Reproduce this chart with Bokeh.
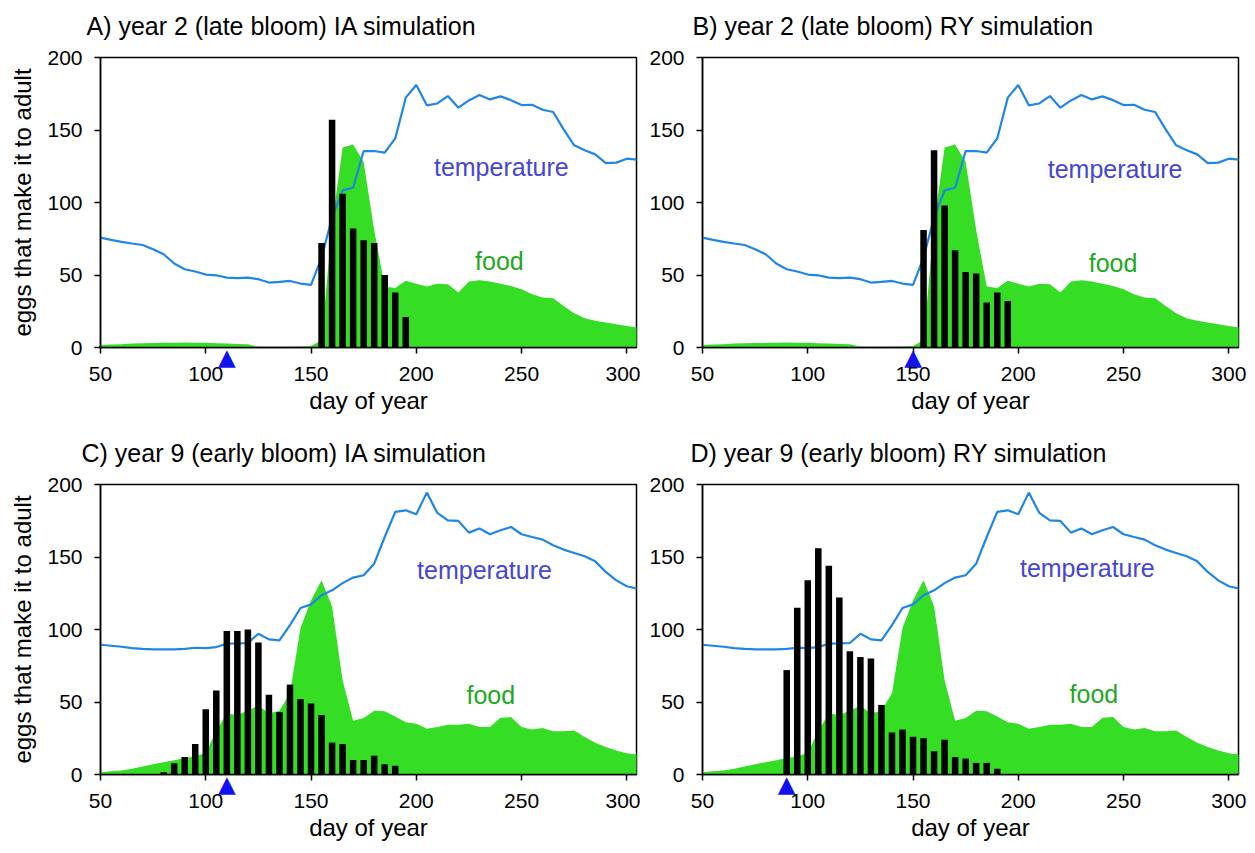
from bokeh.plotting import figure
from bokeh.layouts import column, row
from bokeh.models import Range1d, Label, LinearAxis, FixedTicker
from bokeh.embed import file_html
from bokeh.resources import INLINE

# ---------------- data ----------------
days = list(range(50, 306, 5))  # 50 .. 305

temp_year2 = [75.8, 74.2, 72.8, 71.7, 70.7, 67.8, 64.3, 57.9, 54.0, 52.4,
              50.3, 49.8, 48.2, 47.8, 48.2, 47.1, 44.8, 45.2, 45.9, 44.1,
              43.2, 62.0, 89.6, 108.4, 110.2, 135.5, 135.5, 134.4, 144.2, 172.3,
              181.0, 167.0, 168.3, 173.4, 165.4, 170.4, 174.1, 171.1, 173.2, 170.6,
              167.2, 167.4, 164.0, 162.4, 150.4, 139.4, 136.0, 133.2, 127.2, 127.5,
              130.2, 129.5]
food_year2 = [1.8, 2.0, 2.3, 2.7, 3.0, 3.1, 3.2, 3.3, 3.4, 3.3,
              3.2, 3.0, 2.8, 2.5, 2.3, 0.5, 0.2, 0.2, 0.3, 0.5,
              1.0, 5.0, 85.0, 138.0, 140.0, 128.0, 81.0, 42.0, 41.0, 46.0,
              44.0, 42.0, 44.0, 43.6, 38.0, 45.5, 46.4, 45.5, 44.0, 42.5,
              40.2, 36.7, 34.4, 34.0, 28.7, 23.7, 20.2, 18.4, 17.2, 16.1,
              14.9, 13.8]
temp_year9 = [89.5, 88.8, 88.1, 87.2, 86.7, 86.3, 86.3, 86.3, 86.7, 87.4,
              87.2, 87.9, 90.2, 90.4, 90.7, 97.1, 93.2, 92.5, 103.0, 114.8,
              117.3, 123.6, 127.0, 132.0, 135.8, 137.4, 145.4, 163.8, 181.1, 182.2,
              179.5, 194.4, 180.4, 175.3, 174.9, 166.8, 169.6, 165.7, 168.4, 170.7,
              165.7, 163.8, 162.0, 158.1, 155.1, 152.8, 150.5, 147.0, 139.7, 133.9,
              129.8, 128.2]
food_year9 = [1.6, 2.2, 2.8, 4.0, 5.5, 7.0, 8.5, 9.9, 11.3, 12.4,
              15.0, 30.0, 42.0, 41.0, 44.0, 47.5, 42.0, 44.0, 56.0, 101.0,
              120.0, 134.0, 116.0, 65.0, 37.0, 39.0, 44.0, 43.7, 40.0, 36.1,
              35.0, 31.5, 32.7, 34.3, 34.3, 35.0, 32.7, 32.7, 39.1, 39.6,
              32.7, 31.1, 32.0, 29.9, 29.9, 30.4, 25.8, 21.9, 18.9, 16.6,
              14.7, 13.8]

bar_days_A = [155, 160, 165, 170, 175, 180, 185, 190, 195]
eggs_A = [72, 157, 106, 82, 74, 72, 50, 38, 21]
bar_days_B = [155, 160, 165, 170, 175, 180, 185, 190, 195]
eggs_B = [81, 136, 98, 67, 52, 51, 31, 38, 32]
bar_days_C = list(range(80, 191, 5))
eggs_C = [1.6, 7.8, 12, 21, 45, 58, 99, 99, 100, 91, 55, 43, 62, 52, 49, 41,
          22, 21, 10, 10, 13, 7, 6]
bar_days_D = list(range(90, 191, 5))
eggs_D = [72, 115, 134, 156, 144, 122, 85, 81, 80, 48, 29, 31, 26, 25, 16, 24,
          12, 11, 8, 8, 4]

spawn_day = {"A": 110, "B": 150, "C": 110, "D": 90}

titles = {"A": "A) year 2 (late bloom) IA simulation",
          "B": "B) year 2 (late bloom) RY simulation",
          "C": "C) year 9 (early bloom) IA simulation",
          "D": "D) year 9 (early bloom) RY simulation"}

x_ticks = [50, 100, 150, 200, 250, 300]
y_ticks = [0, 50, 100, 150, 200]

# ---------------- style ----------------
FONT = "Liberation Sans"
FOOD_FILL = "#35DD24"
TEMP_LINE = "#1F86E6"
TEMP_TEXT = "#4545D6"
FOOD_TEXT = "#22A822"
ARROW = "#1212F0"


def panel(key, bar_days, eggs, temp, food, ylabel, w, h, mb, title_offset,
          temp_pos, food_pos):
    p = figure(width=w, height=h, x_range=Range1d(50, 304.6),
               y_range=Range1d(0, 200), output_backend="svg",
               toolbar_location=None, title=titles[key],
               min_border_left=mb[0], min_border_right=mb[1],
               min_border_top=mb[2], min_border_bottom=mb[3])
    p.title.text_font = FONT
    p.title.text_font_size = "25px"
    p.title.text_font_style = "normal"
    p.title.text_color = "black"
    p.title.align = "left"
    p.title.offset = title_offset
    p.title.standoff = 36

    p.xgrid.visible = False
    p.ygrid.visible = False
    p.outline_line_color = "black"
    p.outline_line_width = 1.5
    p.outline_line_alpha = 1.0
    p.background_fill_color = "white"
    p.border_fill_color = "white"

    # y axis
    ya = p.yaxis[0]
    ya.ticker = y_ticks
    ya.axis_line_color = "black"
    ya.axis_line_width = 1.5
    ya.major_tick_line_color = "black"
    ya.major_tick_line_width = 1.5
    ya.major_tick_out = 6
    ya.major_tick_in = 0
    ya.minor_tick_line_color = None
    ya.major_label_text_font = FONT
    ya.major_label_text_font_size = "21px"
    ya.major_label_text_color = "black"
    ya.major_label_standoff = 12
    if ylabel:
        ya.axis_label = "eggs that make it to adult"
        ya.axis_label_text_font = FONT
        ya.axis_label_text_font_size = "24px"
        ya.axis_label_text_font_style = "normal"
        ya.axis_label_text_color = "black"
        ya.axis_label_standoff = 8

    # x axis 1 (adjacent to frame): axis line, tick marks, spawning arrow
    xa = p.xaxis[0]
    xa.ticker = FixedTicker(ticks=[spawn_day[key]], minor_ticks=x_ticks)
    xa.axis_line_color = "black"
    xa.axis_line_width = 1.5
    xa.major_tick_line_color = None
    xa.major_tick_out = 0
    xa.major_tick_in = 0
    xa.minor_tick_line_color = "black"
    xa.minor_tick_line_width = 1.5
    xa.minor_tick_out = 6
    xa.minor_tick_in = 0
    xa.major_label_overrides = {spawn_day[key]: "\u25B2"}
    xa.major_label_text_font = "DejaVu Sans"
    xa.major_label_text_font_size = "23px"
    xa.major_label_text_color = ARROW
    xa.major_label_standoff = -10

    # x axis 2: numbers and axis label
    xb = LinearAxis(ticker=x_ticks)
    xb.axis_line_color = None
    xb.major_tick_line_color = None
    xb.major_tick_out = 0
    xb.major_tick_in = 0
    xb.minor_tick_line_color = None
    xb.minor_tick_out = 0
    xb.minor_tick_in = 0
    xb.major_label_text_font = FONT
    xb.major_label_text_font_size = "21px"
    xb.major_label_text_color = "black"
    xb.major_label_standoff = -6
    xb.axis_label = "day of year"
    xb.axis_label_text_font = FONT
    xb.axis_label_text_font_size = "24px"
    xb.axis_label_text_font_style = "normal"
    xb.axis_label_text_color = "black"
    xb.axis_label_standoff = 3
    p.add_layout(xb, "below")

    p.varea(x=days, y1=[0] * len(days), y2=food, fill_color=FOOD_FILL,
            fill_alpha=1.0)
    p.line(days, temp, line_color=TEMP_LINE, line_width=2.2)
    p.vbar(x=bar_days, top=eggs, width=3.1, fill_color="black",
           line_color=None)

    p.add_layout(Label(x=temp_pos[0], y=temp_pos[1], text="temperature",
                       text_align="center", text_baseline="middle",
                       text_font=FONT, text_font_size="25px",
                       text_color=TEMP_TEXT))
    p.add_layout(Label(x=food_pos[0], y=food_pos[1], text="food",
                       text_align="center", text_baseline="middle",
                       text_font=FONT, text_font_size="25px",
                       text_color=FOOD_TEXT))
    return p


# row 1 is shifted up by 9 px so that the title has room above the frame
pA = panel("A", bar_days_A, eggs_A, temp_year2, food_year2, True, 640, 427,
           (100, 4, 66, 71), -14, (240.4, 124.5), (239.5, 59.7))
pB = panel("B", bar_days_B, eggs_B, temp_year2, food_year2, False, 615, 427,
           (62, 17, 66, 71), -10, (246, 122.9), (245, 58.6))
pC = panel("C", bar_days_C, eggs_C, temp_year9, food_year9, True, 640, 435,
           (100, 4, 66, 79), -19, (232.4, 141.3), (235.4, 54.5))
pD = panel("D", bar_days_D, eggs_D, temp_year9, food_year9, False, 615, 435,
           (62, 17, 66, 79), -12, (232.8, 142.7), (235.9, 55.7))

layout = column(row(pA, pB, margin=(-9, 0, 0, 0)), row(pC, pD))
open("out.html", "w").write(file_html(layout, INLINE))
